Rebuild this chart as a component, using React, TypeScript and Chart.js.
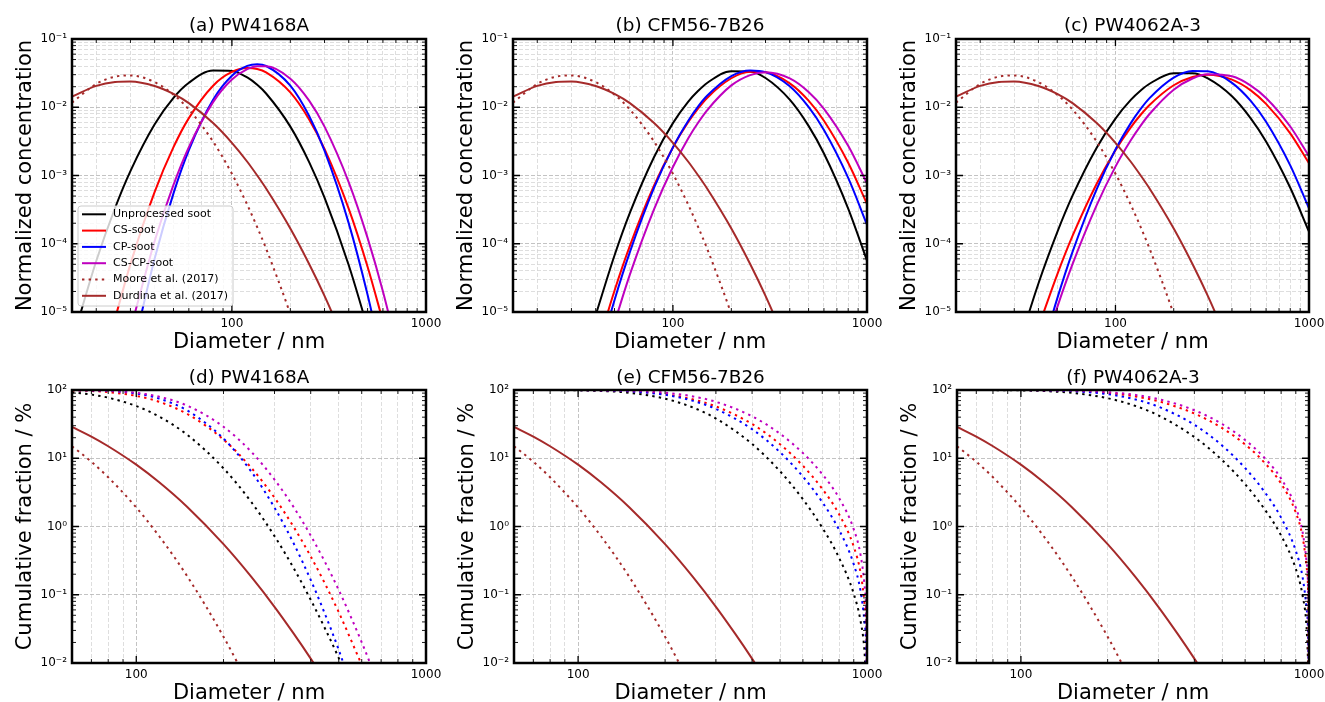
import React, { useEffect, useRef } from "react";
import { Chart, registerables } from "chart.js";

Chart.register(...registerables);

const FONT = "'DejaVu Sans', 'Liberation Sans', sans-serif";

// ---------- series meta ----------
const seriesLabels = [
  "Unprocessed soot",
  "CS-soot",
  "CP-soot",
  "CS-CP-soot",
  "Moore et al. (2017)",
  "Durdina et al. (2017)",
];
const seriesColors = ["#000000", "#ff0000", "#0000ff", "#bf00bf", "#a52a2a", "#a52a2a"];
const topDotted = [false, false, false, false, true, false];
const bottomDotted = [true, true, true, true, true, false];
const panelTitles = [
  "(a) PW4168A",
  "(b) CFM56-7B26",
  "(c) PW4062A-3",
  "(d) PW4168A",
  "(e) CFM56-7B26",
  "(f) PW4062A-3",
];

// ---------- top row: normalized concentration ----------
const topDiameter = [15, 20, 25, 30, 40, 50, 60, 80, 100, 120, 135, 150, 200, 250, 300, 400, 500, 600, 800, 1000];

const aUnprocessed = [3.6e-6, 5.58e-5, 3.34e-4, 1.16e-3, 5.62e-3, 0.0137, 0.0228, 0.0345, 0.0341, 0.0273, 0.0213, 0.0159, 5.2e-3, 1.57e-3, 4.74e-4, 4.84e-5, 5.9e-6, null, null, null];
const aCS = [null, null, 8.0e-6, 5.03e-5, 5.75e-4, 2.6e-3, 6.93e-3, 0.0207, 0.0329, 0.0376, 0.0363, 0.0325, 0.0165, 6.62e-3, 2.45e-3, 3.24e-4, 4.6e-5, 7.3e-6, null, null];
const aCP = [null, null, null, 1.86e-6, 6.1e-5, 5.48e-4, 2.36e-3, 0.0129, 0.029, 0.0403, 0.0426, 0.0402, 0.0207, 7.44e-3, 2.31e-3, 1.99e-4, 1.79e-5, 1.79e-6, null, null];
const aCSCP = [null, null, null, 5.5e-6, 1.1e-4, 7.29e-4, 2.61e-3, 0.0119, 0.0255, 0.0361, 0.0398, 0.0398, 0.0262, 0.0125, 5.2e-3, 7.94e-4, 1.22e-4, 2.0e-5, 7.1e-7, null];

const bUnprocessed = [null, null, null, null, 9.0e-6, 6.74e-5, 2.84e-4, 1.87e-3, 5.85e-3, 0.0121, 0.0174, 0.0227, 0.0338, 0.0333, 0.0268, 0.0129, 5.33e-3, 2.1e-3, 3.28e-4, 5.65e-5];
const bCS = [null, null, null, null, 2.53e-6, 2.05e-5, 9.31e-5, 7.14e-4, 2.58e-3, 6.07e-3, 9.63e-3, 0.0137, 0.0266, 0.0331, 0.0326, 0.0224, 0.0125, 6.35e-3, 1.54e-3, 3.83e-4];
const bCP = [null, null, null, null, 1.57e-6, 1.49e-5, 7.53e-5, 6.62e-4, 2.58e-3, 6.34e-3, 0.0103, 0.0147, 0.0286, 0.0346, 0.0327, 0.0203, 0.0101, 4.64e-3, 9.21e-4, 1.9e-4];
const bCSCP = [null, null, null, null, null, 6.9e-6, 3.52e-5, 3.22e-4, 1.33e-3, 3.51e-3, 5.97e-3, 9.03e-3, 0.0209, 0.0296, 0.0325, 0.0264, 0.0167, 9.48e-3, 2.72e-3, 7.66e-4];

const cUnprocessed = [null, null, null, 1.99e-6, 2.62e-5, 1.47e-4, 5.06e-4, 2.56e-3, 6.83e-3, 0.0128, 0.0176, 0.0221, 0.0315, 0.0316, 0.0265, 0.0145, 6.89e-3, 3.15e-3, 6.61e-4, 1.5e-4];
const cCS = [null, null, null, null, 6.0e-6, 3.54e-5, 1.3e-4, 7.58e-4, 2.35e-3, 5.08e-3, 7.76e-3, 0.0108, 0.021, 0.0278, 0.03, 0.0254, 0.0177, 0.0112, 4.15e-3, 1.51e-3];
const cCP = [null, null, null, null, 1.79e-6, 1.57e-5, 7.6e-5, 6.33e-4, 2.4e-3, 5.86e-3, 9.46e-3, 0.0136, 0.0272, 0.0341, 0.0336, 0.0228, 0.0124, 6.14e-3, 1.41e-3, 3.31e-4];
const cCSCP = [null, null, null, null, 1.6e-6, 1.17e-5, 5.03e-5, 3.69e-4, 1.35e-3, 3.28e-3, 5.39e-3, 7.97e-3, 0.0181, 0.0264, 0.0305, 0.0284, 0.0208, 0.0137, 5.22e-3, 1.92e-3];

const topMoore = [0.0117, 0.022, 0.0281, 0.0293, 0.0233, 0.0153, 9.27e-3, 3.14e-3, 1.06e-3, 3.72e-4, 1.75e-4, 8.5e-5, 9.3e-6, 1.3e-6, null, null, null, null, null, null];
const topDurdina = [0.0143, 0.0206, 0.0235, 0.0239, 0.0205, 0.0157, 0.0115, 5.86e-3, 3.01e-3, 1.59e-3, 1.0e-3, 6.44e-4, 1.67e-4, 5.04e-5, 1.72e-5, 2.66e-6, null, null, null, null];

// ---------- bottom row: cumulative fraction (%) ----------
const bottomDiameter = [60, 70, 80, 100, 120, 150, 200, 250, 300, 350, 400, 450, 500, 600, 700, 800, 900, 950, 980, 995, 999.8];

const dUnprocessed = [92.5, 85.7, 77.2, 58.2, 40.7, 22.0, 7.12, 2.25, 0.723, 0.242, 0.0845, 0.0309, 0.0118, 0.0019, null, null, null, null, null, null, null];
const dCS = [98.7, 96.7, 93.2, 82.0, 67.1, 44.5, 18.8, 7.17, 2.64, 0.973, 0.365, 0.14, 0.0553, 0.0094, null, null, null, null, null, null, null];
const dCP = [99.7, 98.9, 97.0, 88.8, 74.8, 50.0, 19.4, 6.29, 1.89, 0.556, 0.165, 0.0499, 0.0155, 0.0016, null, null, null, null, null, null, null];
const dCSCP = [99.7, 98.9, 97.3, 90.8, 79.7, 58.9, 28.9, 12.3, 4.87, 1.9, 0.737, 0.291, 0.117, 0.0201, 0.0038, null, null, null, null, null, null];

const eUnprocessed = [99.98, 99.92, 99.77, 98.95, 96.96, 91.08, 74.6, 55.24, 38.2, null, 16.21, null, 6.44, 2.51, 0.962, 0.35, 0.103, 0.0411, 0.0149, 0.0042, null];
const eCS = [99.99, 99.98, 99.93, 99.65, 98.88, 96.2, 86.8, 72.79, 57.48, null, 31.78, null, 16.08, 7.75, 3.57, 1.52, 0.505, 0.209, 0.0752, 0.0174, 0.0007];
const eCP = [100.0, 99.98, 99.94, 99.65, 98.82, 95.81, 85.09, 69.33, 52.75, null, 26.65, null, 12.25, 5.38, 2.28, 0.896, 0.279, 0.113, 0.0399, 0.0096, 0.0004];
const eCSCP = [100.0, 99.99, 99.97, 99.85, 99.45, 97.9, 91.53, 80.57, 67.13, null, 41.2, null, 22.87, 11.9, 5.86, 2.62, 0.909, 0.383, 0.139, 0.0323, 0.0013];

const fUnprocessed = [99.96, 99.87, 99.66, 98.68, 96.56, 90.83, 75.78, 58.32, 42.42, null, 20.47, null, 9.35, 4.17, 1.81, 0.739, 0.239, 0.0975, 0.0349, 0.0084, null];
const fCS = [99.99, 99.97, 99.93, 99.69, 99.1, 97.17, 90.6, 80.44, 68.45, null, 45.21, null, 27.59, 15.94, 8.67, 4.26, 1.6, 0.702, 0.262, 0.0636, 0.0025];
const fCP = [100.0, 99.98, 99.94, 99.69, 98.97, 96.36, 86.94, 72.67, 57.05, null, 30.95, null, 15.3, 7.19, 3.24, 1.35, 0.439, 0.181, 0.0644, 0.0157, 0.0006];
const fCSCP = [100.0, 99.99, 99.97, 99.85, 99.51, 98.25, 93.3, 84.69, 73.67, null, 50.5, null, 31.57, 18.53, 10.17, 5.03, 1.89, 0.83, 0.305, 0.0732, 0.0029];

const bottomMoore = [15.0, 8.88, 5.26, 1.9, 0.72, 0.186, 0.0243, 0.004, null, null, null, null, null, null, null, null, null, null, null, null, null];
const bottomDurdina = [28.7, 20.8, 15.0, 8.05, 4.44, 1.93, 0.551, 0.181, 0.0666, 0.0267, 0.0116, 0.0053, null, null, null, null, null, null, null, null, null];

// ---------- ticks ----------
const topXTicks = [20, 30, 40, 50, 60, 70, 80, 90, 100, 200, 300, 400, 500, 600, 700, 800, 900, 1000];
const bottomXTicks = [60, 70, 80, 90, 100, 200, 300, 400, 500, 600, 700, 800, 900, 1000];
const xMajorValues = [100, 1000];
const xMajorLabels = ["100", "1000"];
const topYExponents = [-5, -4, -3, -2, -1];
const topYLabels = ["10\u207B\u2075", "10\u207B\u2074", "10\u207B\u00B3", "10\u207B\u00B2", "10\u207B\u00B9"];
const bottomYExponents = [-2, -1, 0, 1, 2];
const bottomYLabels = ["10\u207B\u00B2", "10\u207B\u00B9", "10\u2070", "10\u00B9", "10\u00B2"];

function decadeTicks(exps: number[]) {
  const out: number[] = [];
  for (let k = 0; k < exps.length - 1; k++) {
    for (let m = 1; m <= 9; m++) out.push(m * Math.pow(10, exps[k]));
  }
  out.push(Math.pow(10, exps[exps.length - 1]));
  return out;
}
function isMajor(v: number) {
  const l = Math.log10(v);
  return Math.abs(l - Math.round(l)) < 1e-9;
}

// ---------- layout (positions & sizes) ----------
type Box = { left: number; top: number; width: number; height: number; yAxisWidth: number; padRight: number; xAxisHeight: number; titleTop: number; titleBottom: number; xTitleLH: number };
const boxes: Box[] = [
  { left: 0, top: 0, width: 460, height: 355, yAxisWidth: 72, padRight: 34, xAxisHeight: 43, titleTop: 15.2, titleBottom: 1.72, xTitleLH: 1.17 },
  { left: 440, top: 0, width: 460, height: 355, yAxisWidth: 73, padRight: 33, xAxisHeight: 43, titleTop: 15.2, titleBottom: 1.72, xTitleLH: 1.17 },
  { left: 880, top: 0, width: 445, height: 355, yAxisWidth: 76, padRight: 16, xAxisHeight: 43, titleTop: 15.2, titleBottom: 1.72, xTitleLH: 1.17 },
  { left: 0, top: 355, width: 460, height: 347, yAxisWidth: 72, padRight: 34, xAxisHeight: 39, titleTop: 11.8, titleBottom: 1.12, xTitleLH: 0.82 },
  { left: 440, top: 355, width: 460, height: 347, yAxisWidth: 74, padRight: 33, xAxisHeight: 39, titleTop: 11.8, titleBottom: 1.12, xTitleLH: 0.82 },
  { left: 880, top: 355, width: 445, height: 347, yAxisWidth: 77, padRight: 16, xAxisHeight: 39, titleTop: 11.8, titleBottom: 1.12, xTitleLH: 0.82 },
];

type PanelDef = {
  title: string;
  top: boolean;
  xs: number[];
  series: (number | null)[][];
  legend: boolean;
  box: Box;
};

const panels: PanelDef[] = [
  { title: panelTitles[0], top: true, xs: topDiameter, series: [aUnprocessed, aCS, aCP, aCSCP, topMoore, topDurdina], legend: true, box: boxes[0] },
  { title: panelTitles[1], top: true, xs: topDiameter, series: [bUnprocessed, bCS, bCP, bCSCP, topMoore, topDurdina], legend: false, box: boxes[1] },
  { title: panelTitles[2], top: true, xs: topDiameter, series: [cUnprocessed, cCS, cCP, cCSCP, topMoore, topDurdina], legend: false, box: boxes[2] },
  { title: panelTitles[3], top: false, xs: bottomDiameter, series: [dUnprocessed, dCS, dCP, dCSCP, bottomMoore, bottomDurdina], legend: false, box: boxes[3] },
  { title: panelTitles[4], top: false, xs: bottomDiameter, series: [eUnprocessed, eCS, eCP, eCSCP, bottomMoore, bottomDurdina], legend: false, box: boxes[4] },
  { title: panelTitles[5], top: false, xs: bottomDiameter, series: [fUnprocessed, fCS, fCP, fCSCP, bottomMoore, bottomDurdina], legend: false, box: boxes[5] },
];

// ---------- plugins ----------
const frameTicks = {
  id: "frameTicks",
  afterDraw(chart: any) {
    const { ctx, chartArea } = chart;
    const { left, right, top, bottom } = chartArea;
    const xs = chart.scales.x;
    const ys = chart.scales.y;
    ctx.save();
    ctx.strokeStyle = "#000";
    ctx.setLineDash([]);
    for (const t of xs.ticks) {
      const p = xs.getPixelForValue(t.value);
      if (p < left - 0.5 || p > right + 0.5) continue;
      const len = t.major ? 7 : 4;
      ctx.lineWidth = t.major ? 1.3 : 0.9;
      ctx.beginPath();
      ctx.moveTo(p, bottom);
      ctx.lineTo(p, bottom - len);
      ctx.moveTo(p, top);
      ctx.lineTo(p, top + len);
      ctx.stroke();
    }
    for (const t of ys.ticks) {
      const p = ys.getPixelForValue(t.value);
      if (p < top - 0.5 || p > bottom + 0.5) continue;
      const len = t.major ? 7 : 4;
      ctx.lineWidth = t.major ? 1.3 : 0.9;
      ctx.beginPath();
      ctx.moveTo(left, p);
      ctx.lineTo(left + len, p);
      ctx.moveTo(right, p);
      ctx.lineTo(right - len, p);
      ctx.stroke();
    }
    ctx.lineWidth = 2.5;
    ctx.strokeRect(left, top, right - left, bottom - top);
    ctx.restore();
  },
};

const insetLegend = {
  id: "insetLegend",
  afterDraw(chart: any, _args: any, opts: any) {
    if (!opts || !opts.show) return;
    const { ctx, chartArea } = chart;
    const w = 155;
    const h = 100;
    const x0 = chartArea.left + 6;
    const y0 = chartArea.bottom - 6 - h;
    ctx.save();
    ctx.beginPath();
    ctx.roundRect(x0, y0, w, h, 3);
    ctx.fillStyle = "rgba(255,255,255,0.8)";
    ctx.fill();
    ctx.strokeStyle = "#cccccc";
    ctx.lineWidth = 1;
    ctx.stroke();
    ctx.font = `11px ${FONT}`;
    ctx.textBaseline = "middle";
    chart.data.datasets.forEach((ds: any, i: number) => {
      const y = y0 + 8.3 + i * 16.3;
      ctx.beginPath();
      ctx.setLineDash(ds.borderDash || []);
      ctx.lineCap = "butt";
      ctx.strokeStyle = ds.borderColor;
      ctx.lineWidth = 2;
      ctx.moveTo(x0 + 4, y);
      ctx.lineTo(x0 + 28, y);
      ctx.stroke();
      ctx.setLineDash([]);
      ctx.fillStyle = "#000";
      ctx.fillText(ds.label, x0 + 35, y);
    });
    ctx.restore();
  },
};

function buildConfig(p: PanelDef): any {
  const dotted = p.top ? topDotted : bottomDotted;
  const xTicks = p.top ? topXTicks : bottomXTicks;
  const yExps = p.top ? topYExponents : bottomYExponents;
  const yLabels = p.top ? topYLabels : bottomYLabels;
  const yTicks = decadeTicks(yExps);
  const b = p.box;
  const datasets = p.series.map((vals, i) => ({
    label: seriesLabels[i],
    data: p.xs
      .map((x, j) => ({ x, y: vals[j] }))
      .filter((pt) => pt.y !== null && pt.y !== undefined),
    borderColor: seriesColors[i],
    backgroundColor: seriesColors[i],
    borderWidth: 2,
    borderDash: dotted[i] ? [2.4, 4.2] : [],
    borderCapStyle: "butt",
    pointRadius: 0,
    pointHoverRadius: 0,
    fill: false,
    cubicInterpolationMode: "monotone",
    order: 10 - i,
  }));
  const gridMajor = "#b4b4b4";
  const gridMinor = "#d6d6d6";
  return {
    type: "line",
    data: { datasets },
    options: {
      animation: false,
      responsive: false,
      devicePixelRatio: 1,
      events: [],
      layout: { padding: { left: 0, right: b.padRight, top: 0, bottom: 0 } },
      plugins: {
        legend: { display: false },
        tooltip: { enabled: false },
        title: {
          display: true,
          text: p.title,
          fullSize: false,
          color: "#000",
          font: { family: FONT, size: 18.4, weight: "normal", lineHeight: 1.2 },
          padding: { top: b.titleTop, bottom: b.titleBottom },
        },
        insetLegend: { show: p.legend },
      },
      scales: {
        x: {
          type: "logarithmic",
          min: p.top ? 15 : 60,
          max: 1000,
          afterBuildTicks: (scale: any) => {
            scale.ticks = xTicks.map((v) => ({ value: v, major: isMajor(v) }));
          },
          afterFit: (scale: any) => {
            scale.height = b.xAxisHeight;
            scale.paddingLeft = 0;
            scale.paddingRight = 0;
          },
          ticks: {
            autoSkip: false,
            maxRotation: 0,
            minRotation: 0,
            padding: 5,
            color: "#000",
            font: { family: FONT, size: 12 },
            callback: (value: any) => {
              const k = xMajorValues.indexOf(Number(value));
              return k >= 0 ? xMajorLabels[k] : "";
            },
          },
          grid: {
            drawTicks: false,
            lineWidth: 0.8,
            color: (c: any) => (c.tick && c.tick.major ? gridMajor : gridMinor),
          },
          border: { display: false, dash: [4, 2] },
          title: {
            display: true,
            text: "Diameter / nm",
            color: "#000",
            font: { family: FONT, size: 21, lineHeight: b.xTitleLH },
            padding: { top: 0, bottom: 0 },
          },
        },
        y: {
          type: "logarithmic",
          min: Math.pow(10, yExps[0]),
          max: Math.pow(10, yExps[yExps.length - 1]),
          afterBuildTicks: (scale: any) => {
            scale.ticks = yTicks.map((v) => ({ value: v, major: isMajor(v) }));
          },
          afterFit: (scale: any) => {
            scale.width = b.yAxisWidth;
            scale.paddingTop = 0;
            scale.paddingBottom = 0;
          },
          ticks: {
            autoSkip: false,
            padding: 5,
            color: "#000",
            font: { family: FONT, size: 12 },
            callback: (value: any) => {
              const v = Number(value);
              if (!isMajor(v)) return "";
              const k = yExps.indexOf(Math.round(Math.log10(v)));
              return k >= 0 ? yLabels[k] : "";
            },
          },
          grid: {
            drawTicks: false,
            lineWidth: 0.8,
            color: (c: any) =>
              c.tick && c.tick.major ? gridMajor : p.top ? gridMinor : "rgba(0,0,0,0)",
          },
          border: { display: false, dash: [4, 2] },
          title: {
            display: true,
            text: p.top ? "Normalized concentration" : "Cumulative fraction / %",
            color: "#000",
            font: { family: FONT, size: 21, lineHeight: 1.2 },
            padding: { top: b.yAxisWidth - 59.1, bottom: 0 },
          },
        },
      },
    },
    plugins: [frameTicks, insetLegend],
  };
}

function Panel({ def }: { def: PanelDef }) {
  const ref = useRef<HTMLCanvasElement>(null);
  useEffect(() => {
    if (!ref.current) return;
    const chart = new Chart(ref.current, buildConfig(def));
    return () => chart.destroy();
  }, [def]);
  const b = def.box;
  return (
    <canvas
      ref={ref}
      width={b.width}
      height={b.height}
      style={{ position: "absolute", left: b.left, top: b.top, width: b.width, height: b.height }}
    />
  );
}

export default function App() {
  return (
    <div style={{ position: "absolute", left: 0, top: 0, width: 1325, height: 702, background: "#ffffff", overflow: "hidden" }}>
      {panels.map((p, i) => (
        <Panel key={i} def={p} />
      ))}
    </div>
  );
}
